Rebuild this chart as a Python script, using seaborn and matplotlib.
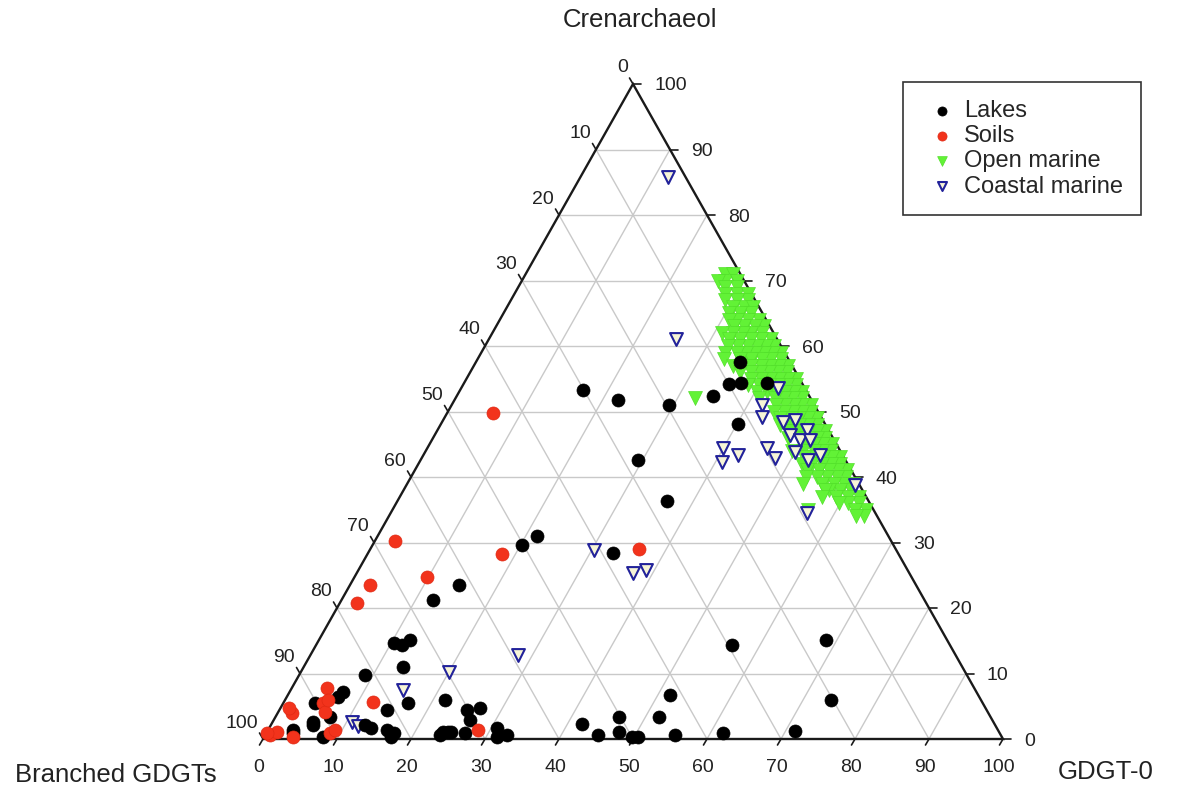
import numpy as np
import pandas as pd
import matplotlib
matplotlib.use("Agg")
import matplotlib.pyplot as plt
import seaborn as sns

sns.set_theme(style="white")
plt.rcParams['font.family'] = ['Liberation Sans', 'DejaVu Sans']

# ---------------- data (percent) ----------------
tick_values = [0, 10, 20, 30, 40, 50, 60, 70, 80, 90, 100]
series_names = ["Lakes", "Soils", "Open marine", "Coastal marine"]

lakes_cren = [53.3, 51.8, 51.0, 52.4, 54.2, 54.4, 57.6, 54.4, 48.1, 42.6, 36.3, 31.0, 29.6, 28.4,
              23.5, 21.2, 14.7, 14.4, 15.1, 11.0, 9.8,
              14.4, 15.1, 6.0, 0.9, 1.2,
              6.0, 4.4, 4.7, 2.9, 0.6, 1.1, 0.9, 1.7, 0.6, 0.3, 2.3, 0.6, 3.4, 1.1, 0.3, 0.3, 3.4, 6.7, 0.6,
              7.2, 6.4, 5.5, 4.4, 5.5, 2.1, 0.9, 0.3, 2.1, 1.4, 0.9, 1.1, 3.4, 2.6, 1.4, 1.7, 0.3, 1.1]
lakes_gdgt0 = [16.6, 22.1, 29.4, 34.6, 35.9, 37.4, 35.7, 40.9, 40.1, 29.4, 36.5, 21.5, 20.2, 33.1,
               14.7, 12.4, 10.3, 11.6, 12.3, 13.4, 8.9,
               56.2, 68.5, 73.8, 61.7, 71.3,
               21.6, 25.4, 27.0, 26.5, 23.6, 24.5, 26.8, 30.8, 32.7, 31.5, 42.0, 45.0, 46.4, 47.5, 49.7, 50.5, 51.8, 51.6, 55.4,
               7.2, 6.9, 4.3, 14.6, 16.8, 5.7, 3.6, 8.0, 12.7, 16.1, 17.3, 23.8, 7.4, 5.5, 3.4, 13.8, 17.2, 24.8]

soils_cren = [49.8, 30.2, 28.2, 29.0, 24.7, 23.5, 20.8, 7.8, 5.5, 4.1, 4.0, 0.3, 0.6, 1.1, 0.9, 5.6, 1.4,
              6.0, 1.4, 0.9, 4.7]
soils_gdgt0 = [6.2, 2.7, 18.2, 36.3, 9.8, 2.7, 2.3, 4.7, 5.3, 6.3, 1.9, 3.9, 0.6, 1.4, 8.6, 12.1, 28.4,
               5.8, 9.0, 0.1, 1.2]

coastal_cren = [85.8, 61.1, 53.6, 51.0, 49.2, 44.4, 43.4, 42.3, 44.4, 42.9, 48.4, 48.7, 47.2, 46.4,
                45.6, 45.6, 43.8, 42.6, 43.4, 38.8, 34.5, 28.9, 25.3, 25.8, 12.8, 10.2, 7.5, 2.6, 2.0]
coastal_gdgt0 = [11.8, 25.3, 42.8, 41.9, 42.8, 40.0, 42.5, 40.9, 45.9, 47.7, 46.1, 47.5, 49.9, 48.0,
                 49.8, 51.1, 50.0, 52.3, 53.6, 60.6, 56.3, 30.3, 37.3, 38.9, 28.1, 20.0, 15.2, 10.7, 11.8]

open_cren = [71, 71,
             70, 70, 70,
             69, 69,
             68, 68, 68,
             67, 67, 67,
             66, 66, 66,
             65, 65, 65,
             64, 64, 64, 64,
             63, 63, 63, 63,
             62, 62, 62, 62, 62,
             61, 61, 61, 61, 61,
             60, 60, 60, 60, 60, 60,
             59, 59, 59, 59, 59, 59, 59,
             58, 58, 58, 58, 58, 58,
             57, 57, 57, 57, 57, 57, 57,
             56, 56, 56, 56, 56, 56,
             55, 55, 55, 55, 55, 55,
             54, 54, 54, 54, 54, 54,
             53, 53, 53, 53, 53, 53,
             52, 52, 52, 52, 52, 52,
             51, 51, 51, 51, 51,
             50, 50, 50, 50, 50,
             49, 49, 49, 49, 49,
             48, 48, 48, 48, 48,
             47, 47, 47, 47, 47,
             46, 46, 46, 46, 46,
             45, 45, 45, 45,
             44, 44, 44, 44, 44,
             43, 43, 43, 43, 43,
             42, 42, 42, 42, 42,
             41, 41, 41, 41, 41,
             40, 40, 40, 40, 40,
             39, 39, 39, 39, 39,
             38, 38, 38, 38,
             37, 37, 37, 37,
             36, 36, 36,
             35, 35, 35,
             34, 34]
open_branched = [2, 1,
                 2.5, 1, 3.5,
                 1.5, 3,
                 2, 0.5, 3.5,
                 1, 2.5, 4,
                 2, 3.5, 0.8,
                 1.5, 3, 4.5,
                 1, 2.5, 4, 5,
                 0.8, 2, 3.5, 4.8,
                 1.5, 3, 4.2, 5.5, 7,
                 0.8, 2.2, 3.6, 5, 6.5,
                 1, 2, 3.2, 4.5, 5.8, 7.2,
                 0.5, 1.6, 2.8, 4, 5.2, 6.5, 8,
                 1, 2.3, 3.6, 5, 6.5, 8.7,
                 0.6, 1.8, 3, 4.2, 5.5, 7, 8,
                 1.2, 2.4, 3.6, 4.8, 6, 7.5,
                 0.5, 1.6, 2.8, 4, 5.2, 6.5,
                 1, 2.2, 3.4, 4.6, 6, 7.5,
                 0.6, 1.8, 3, 4.2, 5.4, 6.8,
                 1.2, 2.4, 3.6, 4.8, 7, 15.6,
                 0.5, 1.6, 2.8, 4, 5.2,
                 1, 2.2, 3.4, 4.6, 6,
                 0.6, 1.8, 3, 4.2, 5.6,
                 1.2, 2.4, 3.6, 4.8, 6.2,
                 0.5, 1.6, 2.8, 4, 5.4,
                 1, 2.2, 3.4, 4.6, 6,
                 0.6, 1.8, 3, 4.2,
                 1.2, 2.4, 3.6, 5, 6.5,
                 0.5, 1.6, 2.8, 4, 5.4,
                 1, 2.2, 3.4, 4.8, 6.2,
                 0.6, 1.8, 3, 4.4, 6,
                 1.2, 2.4, 3.8, 5.2, 6.6,
                 0.8, 2, 3.4, 5, 7.5,
                 1.5, 3, 4.5, 5.1,
                 1, 2.5, 4, 6,
                 1.5, 3, 4.2,
                 1, 2.5, 8.8,
                 1.8, 2.9]

# ---------------- helpers ----------------
def to_xy(cren, gdgt0):
    c = np.asarray(cren, dtype=float) / 100.0
    g = np.asarray(gdgt0, dtype=float) / 100.0
    return g + c / 2.0, c

open_gdgt0 = [100 - c - b for c, b in zip(open_cren, open_branched)]

frames = []
for name, cr, g0 in [("Open marine", open_cren, open_gdgt0),
                     ("Coastal marine", coastal_cren, coastal_gdgt0),
                     ("Lakes", lakes_cren, lakes_gdgt0),
                     ("Soils", soils_cren, soils_gdgt0)]:
    x, y = to_xy(cr, g0)
    frames.append(pd.DataFrame({"x": x, "y": y, "group": name}))
df = pd.concat(frames, ignore_index=True)

W, H = 1177, 789
X0, XW = 263, 740    # pixel of left vertex, width of triangle
Y0, YH = 739, 655    # pixel of baseline, height of triangle

fig = plt.figure(figsize=(W / 100, H / 100), dpi=100)
ax = fig.add_axes([0, 0, 1, 1])
ax.set_xlim(-X0 / XW, (W - X0) / XW)
ax.set_ylim(-(H - Y0) / YH, Y0 / YH)
ax.axis("off")

px = 1.0 / XW
py = 1.0 / YH
grid_col = "#c9c9c9"

# grid
for v in tick_values[1:-1]:
    f = v / 100.0
    ax.plot([f / 2, 1 - f / 2], [f, f], color=grid_col, lw=1.0, zorder=1)            # constant cren
    ax.plot([f, f + (1 - f) / 2], [0, 1 - f], color=grid_col, lw=1.0, zorder=1)      # constant GDGT-0
    ax.plot([1 - f, (1 - f) / 2], [0, 1 - f], color=grid_col, lw=1.0, zorder=1)      # constant branched

# triangle frame
ax.plot([0, 1, 0.5, 0], [0, 0, 1, 0], color="#1a1a1a", lw=1.7, zorder=2, solid_joinstyle="miter")

# ticks and tick labels
fs_tick = 14
for v in tick_values:
    f = v / 100.0
    # bottom axis: GDGT-0
    ax.plot([f, f - 3.5 * px], [0, -6 * py], color="#1a1a1a", lw=1.2, zorder=2)
    ax.text(f - 4 * px, -28 * py, str(v), ha="center", va="center", fontsize=fs_tick, color="#222222")
    # right axis: Crenarchaeol
    ax.plot([1 - f / 2, 1 - f / 2 + 8 * px], [f, f], color="#1a1a1a", lw=1.2, zorder=2)
    ax.text(1 - f / 2 + 21 * px, f - 2 * py, str(v), ha="left", va="center", fontsize=fs_tick, color="#222222")
    # left axis: Branched GDGTs
    c = 1 - f
    ax.plot([c / 2, c / 2 - 3.5 * px], [c, c + 6 * py], color="#1a1a1a", lw=1.2, zorder=2)
    ax.text(c / 2 - 5 * px, c + 16 * py, str(v), ha="right", va="center", fontsize=fs_tick, color="#222222")

# axis titles
fs_title = 18.5
fig.text(640 / W, 1 - 20 / H, "Crenarchaeol", ha="center", va="center", fontsize=fs_title, color="#222222")
fig.text(116 / W, 1 - 775 / H, "Branched GDGTs", ha="center", va="center", fontsize=fs_title, color="#222222")
fig.text(1106 / W, 1 - 772 / H, "GDGT-0", ha="center", va="center", fontsize=fs_title, color="#222222")

# points
styles = {
    "Open marine": dict(marker="v", color="#62f236", edgecolor="#52e02a", linewidth=0.5, s=100),
    "Coastal marine": dict(marker="v", color="#f7f5d6", edgecolor="#22229a", linewidth=1.5, s=85),
    "Lakes": dict(marker="o", color="black", edgecolor="black", linewidth=0.5, s=88),
    "Soils": dict(marker="o", color="#f2331c", edgecolor="#e02a14", linewidth=0.5, s=88),
}
z = 3
for name in ["Open marine", "Coastal marine", "Lakes", "Soils"]:
    sub = df[df["group"] == name]
    sns.scatterplot(data=sub, x="x", y="y", ax=ax, label=name, zorder=z, legend=False, **styles[name])
    z += 1

handles, labels = ax.get_legend_handles_labels()
hmap = dict(zip(labels, handles))
leg = ax.legend([hmap[n] for n in series_names], series_names,
                loc="upper left", bbox_to_anchor=(903 / W, 1 - 82 / H), bbox_transform=fig.transFigure,
                frameon=True, fancybox=False, edgecolor="#333333", framealpha=1,
                fontsize=17, markerscale=0.7, labelspacing=0.14, handletextpad=0.05,
                handlelength=1.8, borderpad=0.75, borderaxespad=0)
leg.get_frame().set_linewidth(1.2)

fig.savefig("out.png", dpi=100)
